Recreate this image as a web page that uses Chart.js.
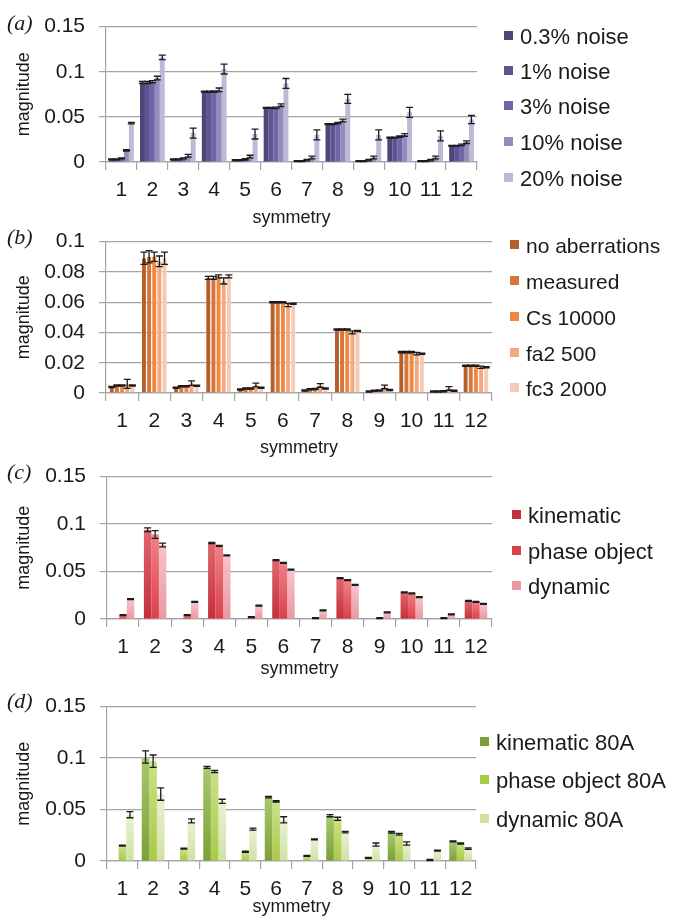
<!DOCTYPE html>
<html>
<head>
<meta charset="utf-8">
<script src="https://cdn.jsdelivr.net/npm/chart.js@4.4.0/dist/chart.umd.min.js"></script>
<style>
  html, body { margin: 0; padding: 0; background: #fff; width: 673px; height: 916px; overflow: hidden; }
  canvas { position: absolute; left: 0; }
</style>
</head>
<body>
<canvas id="chartA" width="673" height="229" style="top:0px"></canvas>
<canvas id="chartB" width="673" height="244" style="top:215px"></canvas>
<canvas id="chartC" width="673" height="230" style="top:450px"></canvas>
<canvas id="chartD" width="673" height="238" style="top:680px"></canvas>
<script>
const symmetry = ['1', '2', '3', '4', '5', '6', '7', '8', '9', '10', '11', '12'];

// (a) noise
const noiseLabels = ['0.3% noise', '1% noise', '3% noise', '10% noise', '20% noise'];
const noise03 = [0.003, 0.088, 0.003, 0.078, 0.002, 0.060, 0.001, 0.042, 0.001, 0.027, 0.001, 0.018];
const noise1  = [0.003, 0.088, 0.003, 0.078, 0.002, 0.060, 0.001, 0.042, 0.001, 0.027, 0.001, 0.018];
const noise3  = [0.004, 0.089, 0.004, 0.078, 0.003, 0.060, 0.002, 0.043, 0.002, 0.028, 0.002, 0.019];
const noise10 = [0.013, 0.093, 0.007, 0.080, 0.006, 0.063, 0.005, 0.046, 0.005, 0.030, 0.005, 0.022];
const noise20 = [0.043, 0.116, 0.032, 0.103, 0.031, 0.087, 0.030, 0.070, 0.030, 0.055, 0.029, 0.047];
const errNoise03 = [0.0005, 0.0012, 0.0005, 0.0005, 0.0005, 0.0005, 0.0005, 0.0005, 0.0005, 0.0005, 0.0005, 0.0005];
const errNoise1  = [0.0005, 0.0012, 0.0005, 0.0005, 0.0005, 0.0005, 0.0005, 0.0005, 0.0005, 0.0005, 0.0005, 0.0005];
const errNoise3  = [0.0005, 0.0012, 0.0005, 0.0008, 0.0008, 0.0008, 0.0008, 0.0008, 0.0008, 0.0008, 0.0008, 0.0008];
const errNoise10 = [0.0008, 0.002, 0.0015, 0.002, 0.0015, 0.0015, 0.0015, 0.0015, 0.0015, 0.0015, 0.0015, 0.0015];
const errNoise20 = [0.0008, 0.0025, 0.0055, 0.0055, 0.0055, 0.0055, 0.0055, 0.005, 0.0055, 0.0055, 0.0055, 0.0045];

// (b) aberrations
const aberrLabels = ['no aberrations', 'measured', 'Cs 10000', 'fa2 500', 'fc3 2000'];
const noAberr  = [0.004, 0.089, 0.0035, 0.076, 0.0023, 0.060, 0.0017, 0.042, 0.001, 0.027, 0.001, 0.018];
const measured = [0.005, 0.090, 0.0045, 0.076, 0.003, 0.060, 0.0025, 0.042, 0.0015, 0.027, 0.001, 0.018];
const cs10000  = [0.005, 0.090, 0.0045, 0.077, 0.003, 0.060, 0.0027, 0.042, 0.0017, 0.027, 0.0012, 0.018];
const fa2500   = [0.006, 0.087, 0.0065, 0.074, 0.0053, 0.058, 0.005, 0.040, 0.004, 0.026, 0.003, 0.017];
const fc32000  = [0.005, 0.089, 0.0048, 0.077, 0.0035, 0.059, 0.003, 0.041, 0.002, 0.026, 0.0015, 0.017];
const errNoAberr  = [0.0004, 0.004, 0.0004, 0.001, 0.0004, 0.0004, 0.0004, 0.0004, 0.0004, 0.0004, 0.0004, 0.0004];
const errMeasured = [0.0004, 0.004, 0.0004, 0.001, 0.0004, 0.0004, 0.0004, 0.0004, 0.0004, 0.0004, 0.0004, 0.0004];
const errCs10000  = [0.0004, 0.003, 0.0004, 0.001, 0.0004, 0.0004, 0.0004, 0.0004, 0.0004, 0.0004, 0.0004, 0.0004];
const errFa2500   = [0.003, 0.0035, 0.0015, 0.002, 0.0012, 0.001, 0.0012, 0.001, 0.0012, 0.0008, 0.0012, 0.0008];
const errFc32000  = [0.0004, 0.004, 0.0004, 0.001, 0.0004, 0.0004, 0.0004, 0.0004, 0.0004, 0.0004, 0.0004, 0.0004];

// (c) scattering model
const modelLabels = ['kinematic', 'phase object', 'dynamic'];
const kinematic   = [0, 0.094, 0, 0.080, 0, 0.062, 0, 0.043, 0, 0.028, 0, 0.019];
const phaseObject = [0.004, 0.089, 0.004, 0.077, 0.002, 0.059, 0.001, 0.041, 0.001, 0.027, 0.001, 0.018];
const dynamic     = [0.021, 0.078, 0.018, 0.067, 0.014, 0.052, 0.009, 0.036, 0.007, 0.023, 0.005, 0.016];
const errKinematic   = [0, 0.002, 0, 0.0006, 0, 0.0005, 0, 0.0005, 0, 0.0005, 0, 0.0005];
const errPhaseObject = [0.0005, 0.004, 0.0005, 0.0006, 0.0005, 0.0005, 0.0005, 0.0005, 0.0005, 0.0005, 0.0005, 0.0005];
const errDynamic     = [0.0005, 0.002, 0.0005, 0.0006, 0.0005, 0.0005, 0.0005, 0.0005, 0.0005, 0.0005, 0.0005, 0.0005];

// (d) 80A thickness
const model80Labels = ['kinematic 80A', 'phase object 80A', 'dynamic 80A'];
const kinematic80   = [0, 0.101, 0, 0.091, 0, 0.062, 0, 0.044, 0, 0.028, 0, 0.019];
const phaseObject80 = [0.015, 0.097, 0.012, 0.087, 0.009, 0.058, 0.005, 0.041, 0.003, 0.026, 0.001, 0.017];
const dynamic80     = [0.045, 0.065, 0.039, 0.058, 0.031, 0.040, 0.021, 0.028, 0.016, 0.017, 0.010, 0.012];
const errKinematic80   = [0, 0.006, 0, 0.001, 0, 0.0007, 0, 0.001, 0, 0.0008, 0, 0.0005];
const errPhaseObject80 = [0.0005, 0.006, 0.0005, 0.001, 0.0005, 0.0007, 0.0005, 0.0015, 0.0005, 0.0008, 0.0005, 0.0005];
const errDynamic80     = [0.003, 0.006, 0.002, 0.002, 0.001, 0.003, 0.0005, 0.0007, 0.0015, 0.0015, 0.0005, 0.0008];

const FONT = '"Liberation Sans", Arial, Helvetica, sans-serif';
const GRID = '#a3a3a3';
const TEXT = '#1a1a1a';

// bar fill: plain colour, or a bottom-to-top gradient when given a pair
function fill(col) {
  if (!Array.isArray(col)) return col;
  return c => {
    const ch = c.chart;
    if (!ch.chartArea || c.raw == null) return col[0];
    const y = ch.scales.y;
    const y0 = y.getPixelForValue(0), y1 = y.getPixelForValue(c.raw);
    if (!(y0 - y1 > 1)) return col[0];
    const g = ch.ctx.createLinearGradient(0, y0, 0, y1);
    g.addColorStop(0, col[0]);
    g.addColorStop(1, col[1]);
    return g;
  };
}

const errorBars = {
  id: 'errorBars',
  afterDatasetsDraw(chart) {
    const ctx = chart.ctx, y = chart.scales.y;
    ctx.save();
    ctx.strokeStyle = '#1c1c1c';
    ctx.lineWidth = 1.3;
    chart.data.datasets.forEach((ds, i) => {
      chart.getDatasetMeta(i).data.forEach((bar, j) => {
        const v = ds.data[j], e = ds.errors[j];
        if (!v) return;
        const top = y.getPixelForValue(v + e), bot = y.getPixelForValue(v - e);
        ctx.beginPath();
        ctx.moveTo(bar.x, top); ctx.lineTo(bar.x, bot);
        ctx.moveTo(bar.x - 3.5, top); ctx.lineTo(bar.x + 3.5, top);
        ctx.moveTo(bar.x - 3.5, bot); ctx.lineTo(bar.x + 3.5, bot);
        ctx.stroke();
      });
    });
    ctx.restore();
  }
};

const sideLegend = {
  id: 'sideLegend',
  afterDraw(chart, args, o) {
    const ctx = chart.ctx;
    ctx.save();
    ctx.textBaseline = 'middle';
    ctx.font = o.size + 'px ' + FONT;
    chart.data.datasets.forEach((ds, i) => {
      const y = o.rows[i] - o.top;
      ctx.fillStyle = ds.swatch;
      ctx.fillRect(o.x, y - 7, 9, 9);
      ctx.fillStyle = TEXT;
      ctx.fillText(ds.label, o.x + 16, y);
    });
    ctx.font = 'italic 22px "Liberation Serif", "Times New Roman", serif';
    ctx.fillText(o.tag, 7, o.tagY - o.top);
    ctx.restore();
  }
};

function makePanel(id, p) {
  const datasets = p.labels.map((label, i) => ({
    label: label,
    data: p.values[i],
    errors: p.errors[i],
    swatch: Array.isArray(p.colors[i]) ? p.colors[i][0] : p.colors[i],
    backgroundColor: fill(p.colors[i]),
    borderColor: p.border || 'rgba(0,0,0,0)',
    borderWidth: p.border ? {left: 0.6, right: 0.6, top: 0, bottom: 0} : 0,
    categoryPercentage: p.catPct,
    barPercentage: 1.0
  }));
  return new Chart(document.getElementById(id), {
    type: 'bar',
    data: { labels: symmetry, datasets: datasets },
    plugins: [errorBars, sideLegend],
    options: {
      responsive: false,
      animation: false,
      layout: { padding: { top: p.padTop, right: 673 - p.right, left: 0, bottom: 0 } },
      plugins: {
        legend: { display: false },
        tooltip: { enabled: false },
        sideLegend: { x: p.legendX, rows: p.legendRows, size: p.legendSize, tag: p.tag, tagY: p.tagY, top: p.top }
      },
      scales: {
        x: {
          afterFit: s => { s.height = p.axisH; },
          grid: { offset: true, drawOnChartArea: false, tickLength: 8, color: GRID, lineWidth: 1.2 },
          border: { color: GRID, width: 1.2 },
          ticks: { color: TEXT, font: { family: FONT, size: 21 }, padding: 8, maxRotation: 0, autoSkip: false },
          title: { display: true, text: 'symmetry', color: TEXT, font: { family: FONT, size: 18 }, padding: 0 }
        },
        y: {
          min: 0,
          max: p.yMax,
          afterFit: s => { s.width = p.left; },
          grid: { color: GRID, tickLength: 7, lineWidth: 1.2 },
          border: { color: GRID, width: 1.2 },
          ticks: {
            stepSize: p.yStep,
            color: TEXT,
            padding: 14,
            font: { family: FONT, size: 21 },
            callback: v => String(+v.toFixed(3))
          },
          title: { display: true, text: 'magnitude', color: TEXT, font: { family: FONT, size: 18 }, padding: { top: 13 } }
        }
      }
    }
  });
}

makePanel('chartA', {
  labels: noiseLabels,
  values: [noise03, noise1, noise3, noise10, noise20],
  errors: [errNoise03, errNoise1, errNoise3, errNoise10, errNoise20],
  colors: ['#4e4578', '#5d5494', '#6e66a8', '#948cbd', '#bdb9d7'],
  yMax: 0.15, yStep: 0.05, catPct: 0.8,
  top: 0, padTop: 20, axisH: 67, left: 106, right: 477,
  legendX: 504, legendRows: [38, 73, 108, 144, 180], legendSize: 22, tag: '(a)', tagY: 24
});

makePanel('chartB', {
  labels: aberrLabels,
  values: [noAberr, measured, cs10000, fa2500, fc32000],
  errors: [errNoAberr, errMeasured, errCs10000, errFa2500, errFc32000],
  colors: ['#b5602b', '#d6763a', '#f0893f', '#f3a884', '#f6cbb5'],
  border: 'rgba(255,255,255,0.85)',
  yMax: 0.1, yStep: 0.02, catPct: 0.8,
  top: 215, padTop: 18, axisH: 66, left: 106, right: 492,
  legendX: 510, legendRows: [247, 283, 319, 355, 390], legendSize: 21, tag: '(b)', tagY: 238
});

makePanel('chartC', {
  labels: modelLabels,
  values: [kinematic, phaseObject, dynamic],
  errors: [errKinematic, errPhaseObject, errDynamic],
  colors: [['#c4303c', '#e0666e'], ['#dd4048', '#f08086'], ['#eb98a1', '#f6c4ca']],
  yMax: 0.15, yStep: 0.05, catPct: 0.7,
  top: 450, padTop: 17, axisH: 61, left: 107, right: 492,
  legendX: 512, legendRows: [517, 553, 588], legendSize: 22, tag: '(c)', tagY: 473
});

makePanel('chartD', {
  labels: model80Labels,
  values: [kinematic80, phaseObject80, dynamic80],
  errors: [errKinematic80, errPhaseObject80, errDynamic80],
  colors: [['#7b9f38', '#a9c86e'], ['#a9c948', '#cbe286'], ['#cfe2a4', '#e8f1d4']],
  yMax: 0.15, yStep: 0.05, catPct: 0.74,
  top: 680, padTop: 17, axisH: 57, left: 107, right: 476,
  legendX: 480, legendRows: [744, 782, 821], legendSize: 22, tag: '(d)', tagY: 702
});
</script>
</body>
</html>
